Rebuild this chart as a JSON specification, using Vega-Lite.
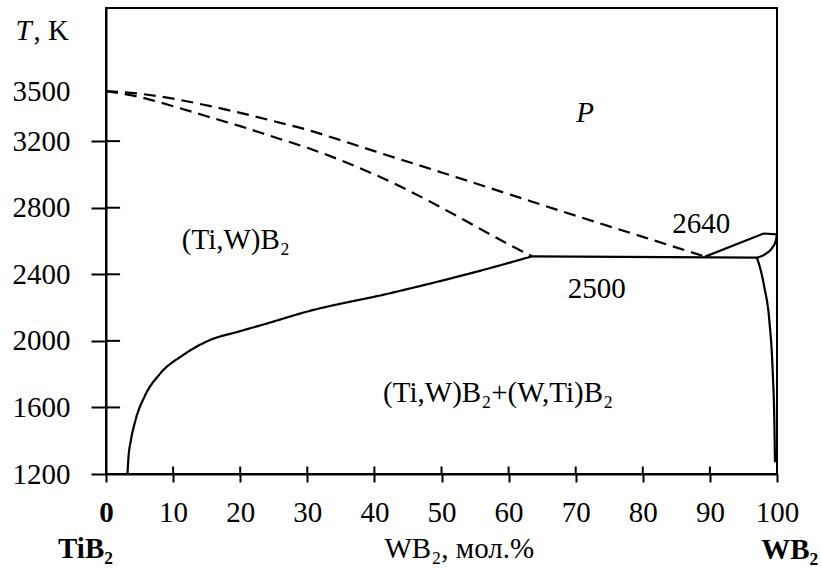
{
  "$schema": "https://vega.github.io/schema/vega-lite/v6.json",
  "width": 671,
  "height": 466,
  "autosize": {"type": "none"},
  "padding": {"left": 106, "top": 8, "right": 44, "bottom": 99},
  "background": "white",
  "config": {
    "view": {"stroke": "black", "strokeWidth": 2},
    "font": "Liberation Serif"
  },
  "datasets": {
    "curves": [
      {"c": "liqTi", "k": "dashed", "i": 0, "x": 0, "T": 3500},
      {"c": "liqTi", "k": "dashed", "i": 1, "x": 5, "T": 3485},
      {"c": "liqTi", "k": "dashed", "i": 2, "x": 10, "T": 3455},
      {"c": "liqTi", "k": "dashed", "i": 3, "x": 15, "T": 3415},
      {"c": "liqTi", "k": "dashed", "i": 4, "x": 20, "T": 3370},
      {"c": "liqTi", "k": "dashed", "i": 5, "x": 25, "T": 3320},
      {"c": "liqTi", "k": "dashed", "i": 6, "x": 30, "T": 3268},
      {"c": "liqTi", "k": "dashed", "i": 7, "x": 35, "T": 3205},
      {"c": "liqTi", "k": "dashed", "i": 8, "x": 40, "T": 3140},
      {"c": "liqTi", "k": "dashed", "i": 9, "x": 50, "T": 3012},
      {"c": "liqTi", "k": "dashed", "i": 10, "x": 60, "T": 2882},
      {"c": "liqTi", "k": "dashed", "i": 11, "x": 70, "T": 2752},
      {"c": "liqTi", "k": "dashed", "i": 12, "x": 80, "T": 2625},
      {"c": "liqTi", "k": "dashed", "i": 13, "x": 89.3, "T": 2506},
      {"c": "solTi", "k": "dashed", "i": 0, "x": 0, "T": 3500},
      {"c": "solTi", "k": "dashed", "i": 1, "x": 5, "T": 3465},
      {"c": "solTi", "k": "dashed", "i": 2, "x": 10, "T": 3410},
      {"c": "solTi", "k": "dashed", "i": 3, "x": 15, "T": 3350},
      {"c": "solTi", "k": "dashed", "i": 4, "x": 20, "T": 3290},
      {"c": "solTi", "k": "dashed", "i": 5, "x": 25, "T": 3225},
      {"c": "solTi", "k": "dashed", "i": 6, "x": 30, "T": 3160},
      {"c": "solTi", "k": "dashed", "i": 7, "x": 35, "T": 3085},
      {"c": "solTi", "k": "dashed", "i": 8, "x": 40, "T": 3000},
      {"c": "solTi", "k": "dashed", "i": 9, "x": 45, "T": 2905},
      {"c": "solTi", "k": "dashed", "i": 10, "x": 50, "T": 2800},
      {"c": "solTi", "k": "dashed", "i": 11, "x": 55, "T": 2690},
      {"c": "solTi", "k": "dashed", "i": 12, "x": 60, "T": 2580},
      {"c": "solTi", "k": "dashed", "i": 13, "x": 63.5, "T": 2508},
      {"c": "solvTi", "k": "solid", "i": 0, "x": 3.2, "T": 1200},
      {"c": "solvTi", "k": "solid", "i": 1, "x": 3.35, "T": 1300},
      {"c": "solvTi", "k": "solid", "i": 2, "x": 3.7, "T": 1400},
      {"c": "solvTi", "k": "solid", "i": 3, "x": 4.4, "T": 1524},
      {"c": "solvTi", "k": "solid", "i": 4, "x": 5.8, "T": 1670},
      {"c": "solvTi", "k": "solid", "i": 5, "x": 8.0, "T": 1800},
      {"c": "solvTi", "k": "solid", "i": 6, "x": 11.5, "T": 1915},
      {"c": "solvTi", "k": "solid", "i": 7, "x": 15.5, "T": 2005},
      {"c": "solvTi", "k": "solid", "i": 8, "x": 19.7, "T": 2055},
      {"c": "solvTi", "k": "solid", "i": 9, "x": 23.7, "T": 2101},
      {"c": "solvTi", "k": "solid", "i": 10, "x": 29.9, "T": 2175},
      {"c": "solvTi", "k": "solid", "i": 11, "x": 42.3, "T": 2286},
      {"c": "solvTi", "k": "solid", "i": 12, "x": 56.2, "T": 2426},
      {"c": "solvTi", "k": "solid", "i": 13, "x": 63.5, "T": 2508},
      {"c": "liqW", "k": "solid", "i": 0, "x": 97.0, "T": 2500},
      {"c": "liqW", "k": "solid", "i": 1, "x": 98.4, "T": 2525},
      {"c": "liqW", "k": "solid", "i": 2, "x": 99.3, "T": 2560},
      {"c": "liqW", "k": "solid", "i": 3, "x": 99.8, "T": 2600},
      {"c": "liqW", "k": "solid", "i": 4, "x": 100, "T": 2640},
      {"c": "solvW", "k": "solid", "i": 0, "x": 97.0, "T": 2500},
      {"c": "solvW", "k": "solid", "i": 1, "x": 97.4, "T": 2450},
      {"c": "solvW", "k": "solid", "i": 2, "x": 98.1, "T": 2325},
      {"c": "solvW", "k": "solid", "i": 3, "x": 98.85, "T": 2125},
      {"c": "solvW", "k": "solid", "i": 4, "x": 99.35, "T": 1825},
      {"c": "solvW", "k": "solid", "i": 5, "x": 99.6, "T": 1524},
      {"c": "solvW", "k": "solid", "i": 6, "x": 99.7, "T": 1270}
    ],
    "straights": [
      {"c": "iso2500", "i": 0, "x": 63.5, "T": 2508},
      {"c": "iso2500", "i": 1, "x": 97.0, "T": 2500},
      {"c": "per2640", "i": 0, "x": 89.3, "T": 2506},
      {"c": "per2640", "i": 1, "x": 98.0, "T": 2645},
      {"c": "per2640", "i": 2, "x": 100, "T": 2640}
    ],
    "innerTicks": [
      {"x": 0, "x2": 2.1, "T": 1600, "T2": 1600},
      {"x": 0, "x2": 2.1, "T": 2000, "T2": 2000},
      {"x": 0, "x2": 2.1, "T": 2400, "T2": 2400},
      {"x": 0, "x2": 2.1, "T": 2800, "T2": 2800},
      {"x": 0, "x2": 2.1, "T": 3200, "T2": 3200},
      {"x": 10, "x2": 10, "T": 1200, "T2": 1245},
      {"x": 20, "x2": 20, "T": 1200, "T2": 1245},
      {"x": 30, "x2": 30, "T": 1200, "T2": 1245},
      {"x": 40, "x2": 40, "T": 1200, "T2": 1245},
      {"x": 50, "x2": 50, "T": 1200, "T2": 1245},
      {"x": 60, "x2": 60, "T": 1200, "T2": 1245},
      {"x": 70, "x2": 70, "T": 1200, "T2": 1245},
      {"x": 80, "x2": 80, "T": 1200, "T2": 1245},
      {"x": 90, "x2": 90, "T": 1200, "T2": 1245}
    ],
    "plainLabels": [
      {"text": ", K", "x": -10.8, "T": 3808},
      {"text": "2640", "x": 84.4, "T": 2646},
      {"text": "2500", "x": 68.8, "T": 2257},
      {"text": "(Ti,W)B₂", "x": 11.3, "T": 2552},
      {"text": "(Ti,W)B₂+(W,Ti)B₂", "x": 41.3, "T": 1633},
      {"text": "WB₂, мол.%", "x": 41.5, "T": 695}
    ],
    "italicLabels": [
      {"text": "T", "x": -13.5, "T": 3808},
      {"text": "P", "x": 70.1, "T": 3317}
    ],
    "boldLabels": [
      {"text": "TiB₂", "x": -7.15, "T": 695},
      {"text": "WB₂", "x": 97.65, "T": 692}
    ]
  },
  "encoding": {
    "x": {
      "field": "x", "type": "quantitative",
      "scale": {"domain": [0, 100], "nice": false, "zero": false},
      "axis": {
        "title": null, "grid": false,
        "values": [0, 10, 20, 30, 40, 50, 60, 70, 80, 90, 100],
        "format": "d",
        "domainColor": "black", "domainWidth": 2,
        "tickColor": "black", "tickWidth": 2, "tickSize": 8,
        "labelFont": "Liberation Serif", "labelFontSize": 29, "labelColor": "black",
        "labelPadding": 16, "labelFlush": false, "labelOverlap": false,
        "labelFontWeight": {"condition": {"test": "datum.value == 0", "value": "bold"}, "value": "normal"}
      }
    },
    "y": {
      "field": "T", "type": "quantitative",
      "scale": {"domain": [1200, 4000], "nice": false, "zero": false},
      "axis": {
        "title": null, "grid": false,
        "values": [1200, 1600, 2000, 2400, 2800, 3200, 3500],
        "format": "d",
        "domainColor": "black", "domainWidth": 2,
        "tickColor": "black", "tickWidth": 2, "tickSize": 15,
        "tickOpacity": {"condition": {"test": "datum.value == 3500", "value": 0}, "value": 1},
        "labelFont": "Liberation Serif", "labelFontSize": 29, "labelColor": "black",
        "labelPadding": 21, "labelFlush": false, "labelOverlap": false
      }
    }
  },
  "layer": [
    {
      "data": {"name": "curves"},
      "mark": {"type": "line", "color": "black", "strokeWidth": 2.2, "clip": false, "interpolate": "monotone"},
      "encoding": {
        "detail": {"field": "c", "type": "nominal"},
        "order": {"field": "i", "type": "quantitative"},
        "strokeDash": {
          "field": "k", "type": "nominal",
          "scale": {"domain": ["solid", "dashed"], "range": [[1, 0], [12, 7]]},
          "legend": null
        }
      }
    },
    {
      "data": {"name": "straights"},
      "mark": {"type": "line", "color": "black", "strokeWidth": 2.2, "clip": false, "interpolate": "linear"},
      "encoding": {
        "detail": {"field": "c", "type": "nominal"},
        "order": {"field": "i", "type": "quantitative"}
      }
    },
    {
      "data": {"name": "innerTicks"},
      "mark": {"type": "rule", "color": "black", "strokeWidth": 2},
      "encoding": {
        "x2": {"field": "x2"},
        "y2": {"field": "T2"}
      }
    },
    {
      "data": {"name": "plainLabels"},
      "mark": {"type": "text", "align": "left", "baseline": "alphabetic", "clip": false, "font": "Liberation Serif", "fontSize": 29, "color": "black"},
      "encoding": {
        "text": {"field": "text"}
      }
    },
    {
      "data": {"name": "italicLabels"},
      "mark": {"type": "text", "align": "left", "baseline": "alphabetic", "fontStyle": "italic", "clip": false, "font": "Liberation Serif", "fontSize": 29, "color": "black"},
      "encoding": {
        "text": {"field": "text"}
      }
    },
    {
      "data": {"name": "boldLabels"},
      "mark": {"type": "text", "align": "left", "baseline": "alphabetic", "fontWeight": "bold", "clip": false, "font": "Liberation Serif", "fontSize": 29, "color": "black"},
      "encoding": {
        "text": {"field": "text"}
      }
    }
  ]
}
